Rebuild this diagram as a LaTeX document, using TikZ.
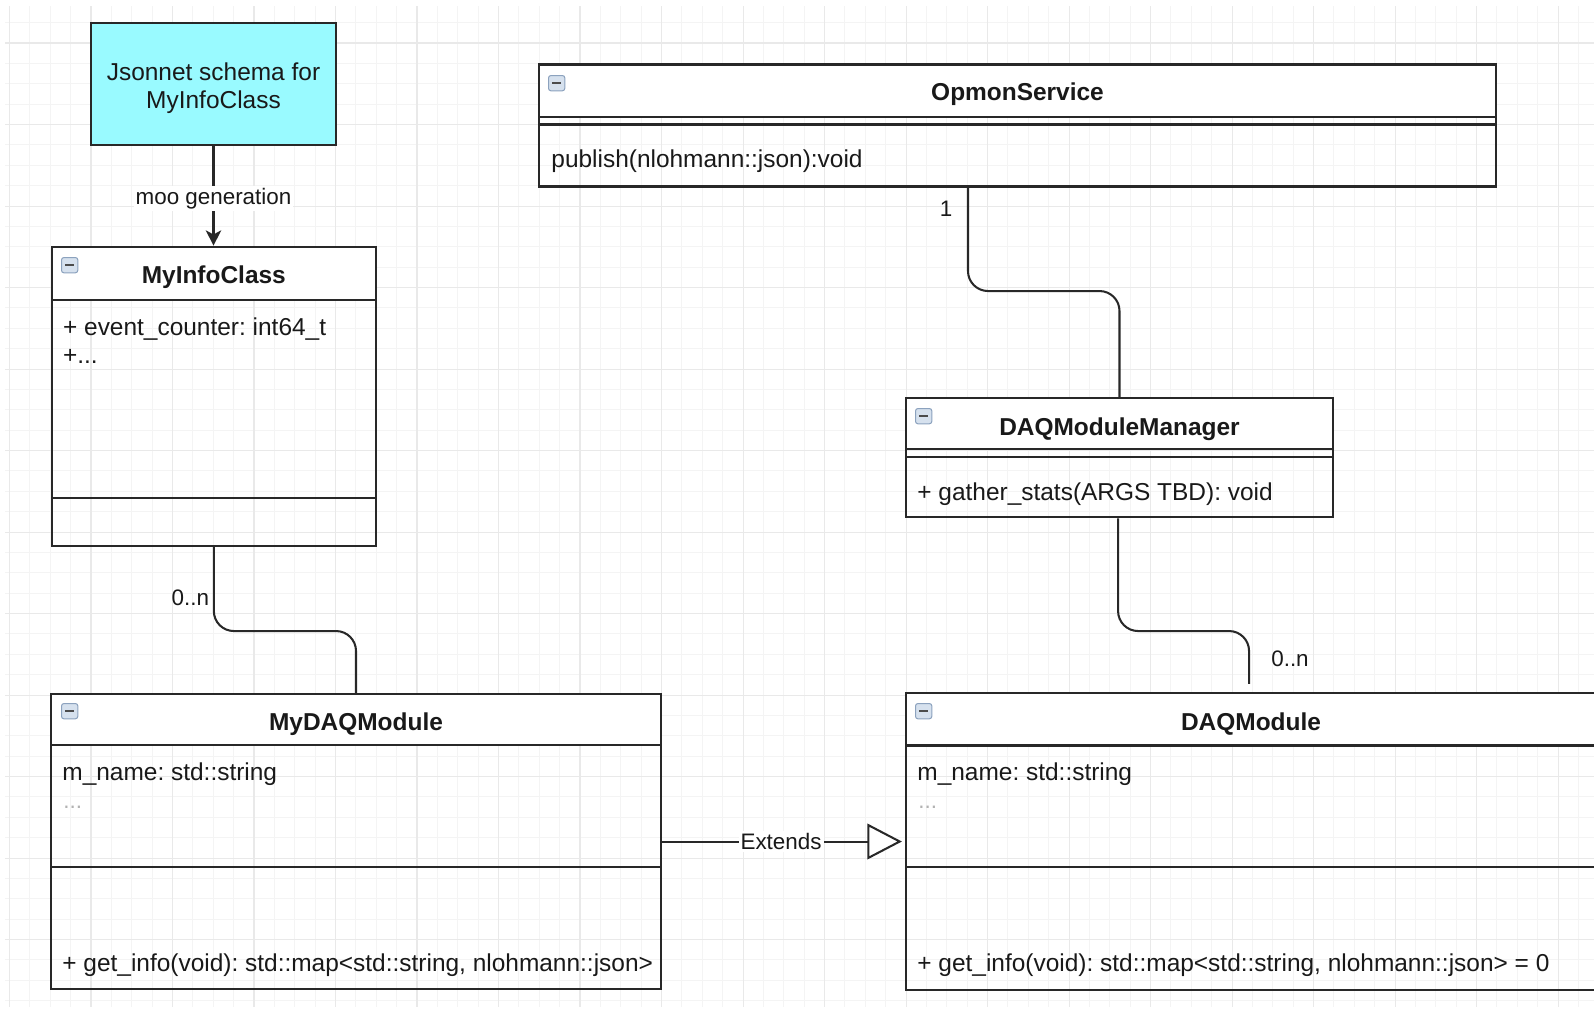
\documentclass[tikz,border=0pt]{standalone}
\usepackage{fontspec}
\setmainfont{Liberation Sans}
\usetikzlibrary{fit,arrows.meta}
\definecolor{gridminor}{RGB}{244,244,244}
\definecolor{gridmajor}{RGB}{233,233,233}
\definecolor{cyanfill}{RGB}{153,250,255}
\definecolor{linec}{RGB}{40,40,40}
\definecolor{txt}{RGB}{25,25,25}
\definecolor{iconfill}{RGB}{214,225,238}
\definecolor{iconline}{RGB}{140,162,190}
\frenchspacing
\begin{document}
\begin{tikzpicture}[x=0.4908pt,y=-0.4908pt,
  every node/.style={text=txt},
  umlbox/.style={draw=linec, line width=1pt, inner sep=0pt},
  sepline/.style={draw=linec, line width=1pt},
  conn/.style={draw=linec, line width=1pt},
  rc/.style={rounded corners=9.8pt},
  maintext/.style={font=\fontsize{12}{13.9}\selectfont, inner sep=0pt},
  titletext/.style={font=\fontsize{12}{14}\selectfont\bfseries, inner sep=0pt, anchor=base},
  membertext/.style={font=\fontsize{12}{14}\selectfont, inner sep=0pt, anchor=base west},
  edgelabel/.style={font=\fontsize{11}{13}\selectfont, inner sep=1pt, fill=white},
  multlabel/.style={font=\fontsize{11}{13}\selectfont, inner sep=0pt, anchor=base},
  dots/.style={font=\fontsize{11}{13}\selectfont, text=gray!60, inner sep=0pt, anchor=base west},
  collapse/.style={draw=iconline, fill=iconfill, line width=0.5pt, rounded corners=1.2pt,
     minimum width=8pt, minimum height=7.5pt, inner sep=0pt, anchor=north west},
]
\useasboundingbox (0,0) rectangle (1594,1009);
\clip (0,0) rectangle (1594,1009);
\fill[white] (0,0) rectangle (1594,1009);

% grid
\foreach \k in {0,...,77} {\draw[gridminor, line width=0.5pt] ({9.5+\k*20.375},6) -- ({9.5+\k*20.375},1007);}
\foreach \k in {-1,...,47} {\draw[gridminor, line width=0.5pt] (5,{43+\k*20.375}) -- (1594,{43+\k*20.375});}
\foreach \k in {0,...,19} {\draw[gridmajor, line width=0.5pt] ({9.5+\k*81.5},6) -- ({9.5+\k*81.5},1007);}
\foreach \k in {0,...,11} {\draw[gridmajor, line width=0.5pt] (5,{43+\k*81.5}) -- (1594,{43+\k*81.5});}

% Jsonnet schema
\node[umlbox, fill=cyanfill, fit={(91,23) (336,145)}] (json) {};
\node[maintext, align=center] (jsontxt) at (213.5,88) {Jsonnet schema for\\MyInfoClass};

% MyInfoClass
\fill[white] (51.7,246.7) rectangle (376,300);
\node[umlbox, fit={(51.7,246.7) (376,546)}] (myinfo) {};
\draw[sepline] (51.7,300) -- (376,300);
\draw[sepline] (51.7,497.7) -- (376,497.7);
\node[titletext] (myinfoT) at (213.8,283) {MyInfoClass};
\node[membertext] (myinfoA1) at (62.7,335.7) {+ event\_counter: int64\_t};
\node[membertext] (myinfoA2) at (62.7,363.5) {+...};
\node[collapse] (myinfoI) at (61,257) {\color{black!70}\rule{4.2pt}{0.9pt}};

% OpmonService
\fill[white] (539,64.5) rectangle (1496,116.7);
\node[umlbox, fit={(539,64.5) (1496,186.5)}] (opmon) {};
\draw[sepline] (539,116.7) -- (1496,116.7);
\draw[sepline] (539,124.5) -- (1496,124.5);
\node[titletext] (opmonT) at (1017.5,100) {OpmonService};
\node[membertext] (opmonM) at (551,167.3) {publish(nlohmann::json):void};
\node[collapse] (opmonI) at (548,75) {\color{black!70}\rule{4.2pt}{0.9pt}};

% DAQModuleManager
\fill[white] (906,398.3) rectangle (1333,449);
\node[umlbox, fit={(906,398.3) (1333,517.3)}] (mgr) {};
\draw[sepline] (906,449) -- (1333,449);
\draw[sepline] (906,457.3) -- (1333,457.3);
\node[titletext] (mgrT) at (1119.5,435) {DAQModuleManager};
\node[membertext] (mgrM) at (917,500) {+ gather\_stats(ARGS TBD): void};
\node[collapse] (mgrI) at (915,408) {\color{black!70}\rule{4.2pt}{0.9pt}};

% MyDAQModule
\fill[white] (51,694) rectangle (661,745);
\node[umlbox, fit={(51,694) (661,989)}] (mydaq) {};
\draw[sepline] (51,745) -- (661,745);
\draw[sepline] (51,867) -- (661,867);
\node[titletext] (mydaqT) at (356,730) {MyDAQModule};
\node[membertext] (mydaqA) at (62,780.7) {m\_name: std::string};
\node[dots] (mydaqD) at (63,808) {...};
\node[membertext] (mydaqM) at (62,971) {+ get\_info(void): std::map<std::string, nlohmann::json>};
\node[collapse] (mydaqI) at (61,703) {\color{black!70}\rule{4.2pt}{0.9pt}};

% DAQModule
\fill[white] (906,693) rectangle (1597,745.5);
\node[umlbox, fit={(906,693) (1597,990)}] (daq) {};
\draw[sepline] (906,745.5) -- (1597,745.5);
\draw[sepline] (906,867) -- (1597,867);
\node[titletext] (daqT) at (1251,730) {DAQModule};
\node[membertext] (daqA) at (917,780.7) {m\_name: std::string};
\node[dots] (daqD) at (918,808) {...};
\node[membertext] (daqM) at (917,971) {+ get\_info(void): std::map<std::string, nlohmann::json> = 0};
\node[collapse] (daqI) at (915,703) {\color{black!70}\rule{4.2pt}{0.9pt}};

% connectors
\draw[conn, -{Stealth[length=7.5pt,width=7.5pt,inset=2pt]}]
  (json.south) -- node[edgelabel, pos=0.53] (mooL) {moo generation} (json.south |- myinfo.north);
\draw[conn, rc] (myinfo.south) -- ++(0,84) -| (mydaq.north);
\draw[conn, rc] ([xshift=-24.3pt]opmon.south) -- ++(0,103.5) -| (mgr.north);
\draw[conn, rc] ([xshift=-0.7pt]mgr.south) -- ++(0,112.7) -| ([xshift=-1.2pt,yshift=4pt]daq.north);
\draw[conn, -{Triangle[fill=white, length=17pt, width=17.5pt]}, shorten >=1.5pt]
  (mydaq.east) -- node[edgelabel, pos=0.49] (extL) {Extends} (daq.west);

% multiplicities
\node[multlabel] (m1) at (946,216.7) {1};
\node[multlabel] (m2) at (190.4,605) {0..n};
\node[multlabel] (m3) at (1290,666) {0..n};
\end{tikzpicture}
\end{document}
